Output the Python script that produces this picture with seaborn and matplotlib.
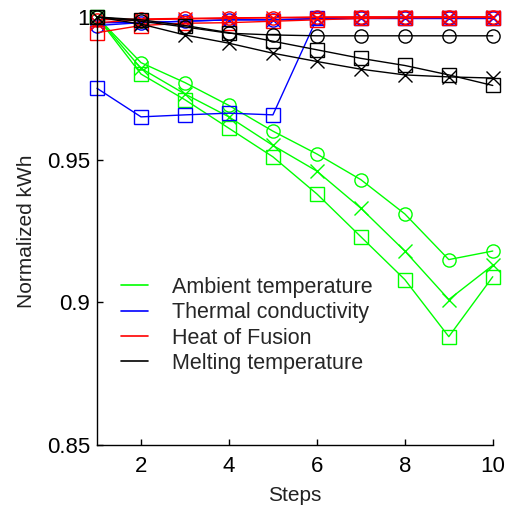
import matplotlib
matplotlib.use("Agg")
import matplotlib.pyplot as plt
from matplotlib.lines import Line2D
import seaborn as sns
import pandas as pd

steps = [1, 2, 3, 4, 5, 6, 7, 8, 9, 10]

# Ambient temperature (green)
amb_circle = [1.0, 0.984, 0.977, 0.969, 0.960, 0.952, 0.943, 0.931, 0.915, 0.918]
amb_x = [1.0, 0.982, 0.973, 0.965, 0.955, 0.946, 0.933, 0.918, 0.901, 0.913]
amb_square = [1.0, 0.980, 0.971, 0.961, 0.951, 0.938, 0.923, 0.908, 0.888, 0.909]

# Thermal conductivity (blue)
tc_circle = [0.997, 0.998, 0.9985, 0.999, 0.999, 0.9995, 0.9995, 0.9995, 0.9995, 0.9995]
tc_x = [0.998, 0.998, 0.9985, 0.999, 0.999, 0.9993, 0.9995, 0.9995, 0.9995, 0.9995]
tc_square = [0.975, 0.965, 0.9657, 0.9663, 0.9657, 0.9995, 0.9995, 0.9995, 0.9995, 0.9995]

# Heat of Fusion (red)
hf_circle = [0.999, 0.9993, 0.9995, 0.9997, 0.9998, 1.0, 1.0, 1.0, 1.0, 1.0]
hf_x = [0.998, 0.999, 0.9993, 0.9995, 0.9997, 0.9998, 1.0, 1.0, 1.0, 1.0]
hf_square = [0.9945, 0.997, 0.9978, 0.998, 0.9985, 0.999, 0.9995, 0.9997, 0.9998, 0.9998]

# Melting temperature (black)
mt_circle = [1.0, 0.9985, 0.9965, 0.9943, 0.9937, 0.9934, 0.9934, 0.9934, 0.9934, 0.9934]
mt_x = [1.0, 0.9975, 0.9937, 0.9908, 0.9873, 0.9844, 0.9817, 0.9797, 0.979, 0.9786]
mt_square = [1.0, 0.999, 0.997, 0.9945, 0.9915, 0.9885, 0.9855, 0.983, 0.9797, 0.976]

parameters = ["Ambient temperature", "Thermal conductivity", "Heat of Fusion", "Melting temperature"]
colors = ["#00ff00", "#0000ff", "#ff0000", "#000000"]
series = {
    "Ambient temperature": [amb_circle, amb_x, amb_square],
    "Thermal conductivity": [tc_circle, tc_x, tc_square],
    "Heat of Fusion": [hf_circle, hf_x, hf_square],
    "Melting temperature": [mt_circle, mt_x, mt_square],
}
markers = ["o", "x", "s"]

yticks = [0.85, 0.9, 0.95, 1.0]
ytick_labels = ["0.85", "0.9", "0.95", "1"]
xticks = [2, 4, 6, 8, 10]

sns.set_style("ticks")
plt.rcParams["font.family"] = ["Liberation Sans", "DejaVu Sans"]

fig = plt.figure(figsize=(5.08, 5.14), dpi=100)
ax = fig.add_axes([0.191, 0.134, 0.779, 0.833])

for param, color in zip(parameters, colors):
    for vals, mk in zip(series[param], markers):
        df = pd.DataFrame({"Steps": steps, "kWh": vals})
        sns.lineplot(data=df, x="Steps", y="kWh", ax=ax, color=color, marker=mk,
                     markersize=9.5, markerfacecolor="none", markeredgecolor=color,
                     markeredgewidth=1.0, linewidth=1.0, clip_on=False, legend=False)

ax.set_xlim(1, 10)
ax.set_ylim(0.85, 1.0)
ax.set_xticks(xticks)
ax.set_xticklabels([str(t) for t in xticks])
ax.set_yticks(yticks)
ax.set_yticklabels(ytick_labels)
ax.tick_params(direction="in", length=4, width=1, labelsize=16, colors="black")
ax.tick_params(axis="y", pad=5)
ax.tick_params(axis="x", pad=8)
sns.despine(ax=ax)
for s in ["left", "bottom"]:
    ax.spines[s].set_color("black")
    ax.spines[s].set_linewidth(1.0)

ax.set_xlabel("Steps", fontsize=15, color="#222222", labelpad=6)
ax.set_ylabel("Normalized kWh", fontsize=15, color="#222222", labelpad=8)

handles = [Line2D([0], [0], color=c, lw=1.2) for c in colors]
ax.legend(handles, parameters, loc="upper left", bbox_to_anchor=(0.04, 0.413),
          frameon=False, fontsize=15.5, handlelength=1.25, handletextpad=1.1,
          labelspacing=0.2, borderaxespad=0)

fig.savefig("out.png", dpi=100)
